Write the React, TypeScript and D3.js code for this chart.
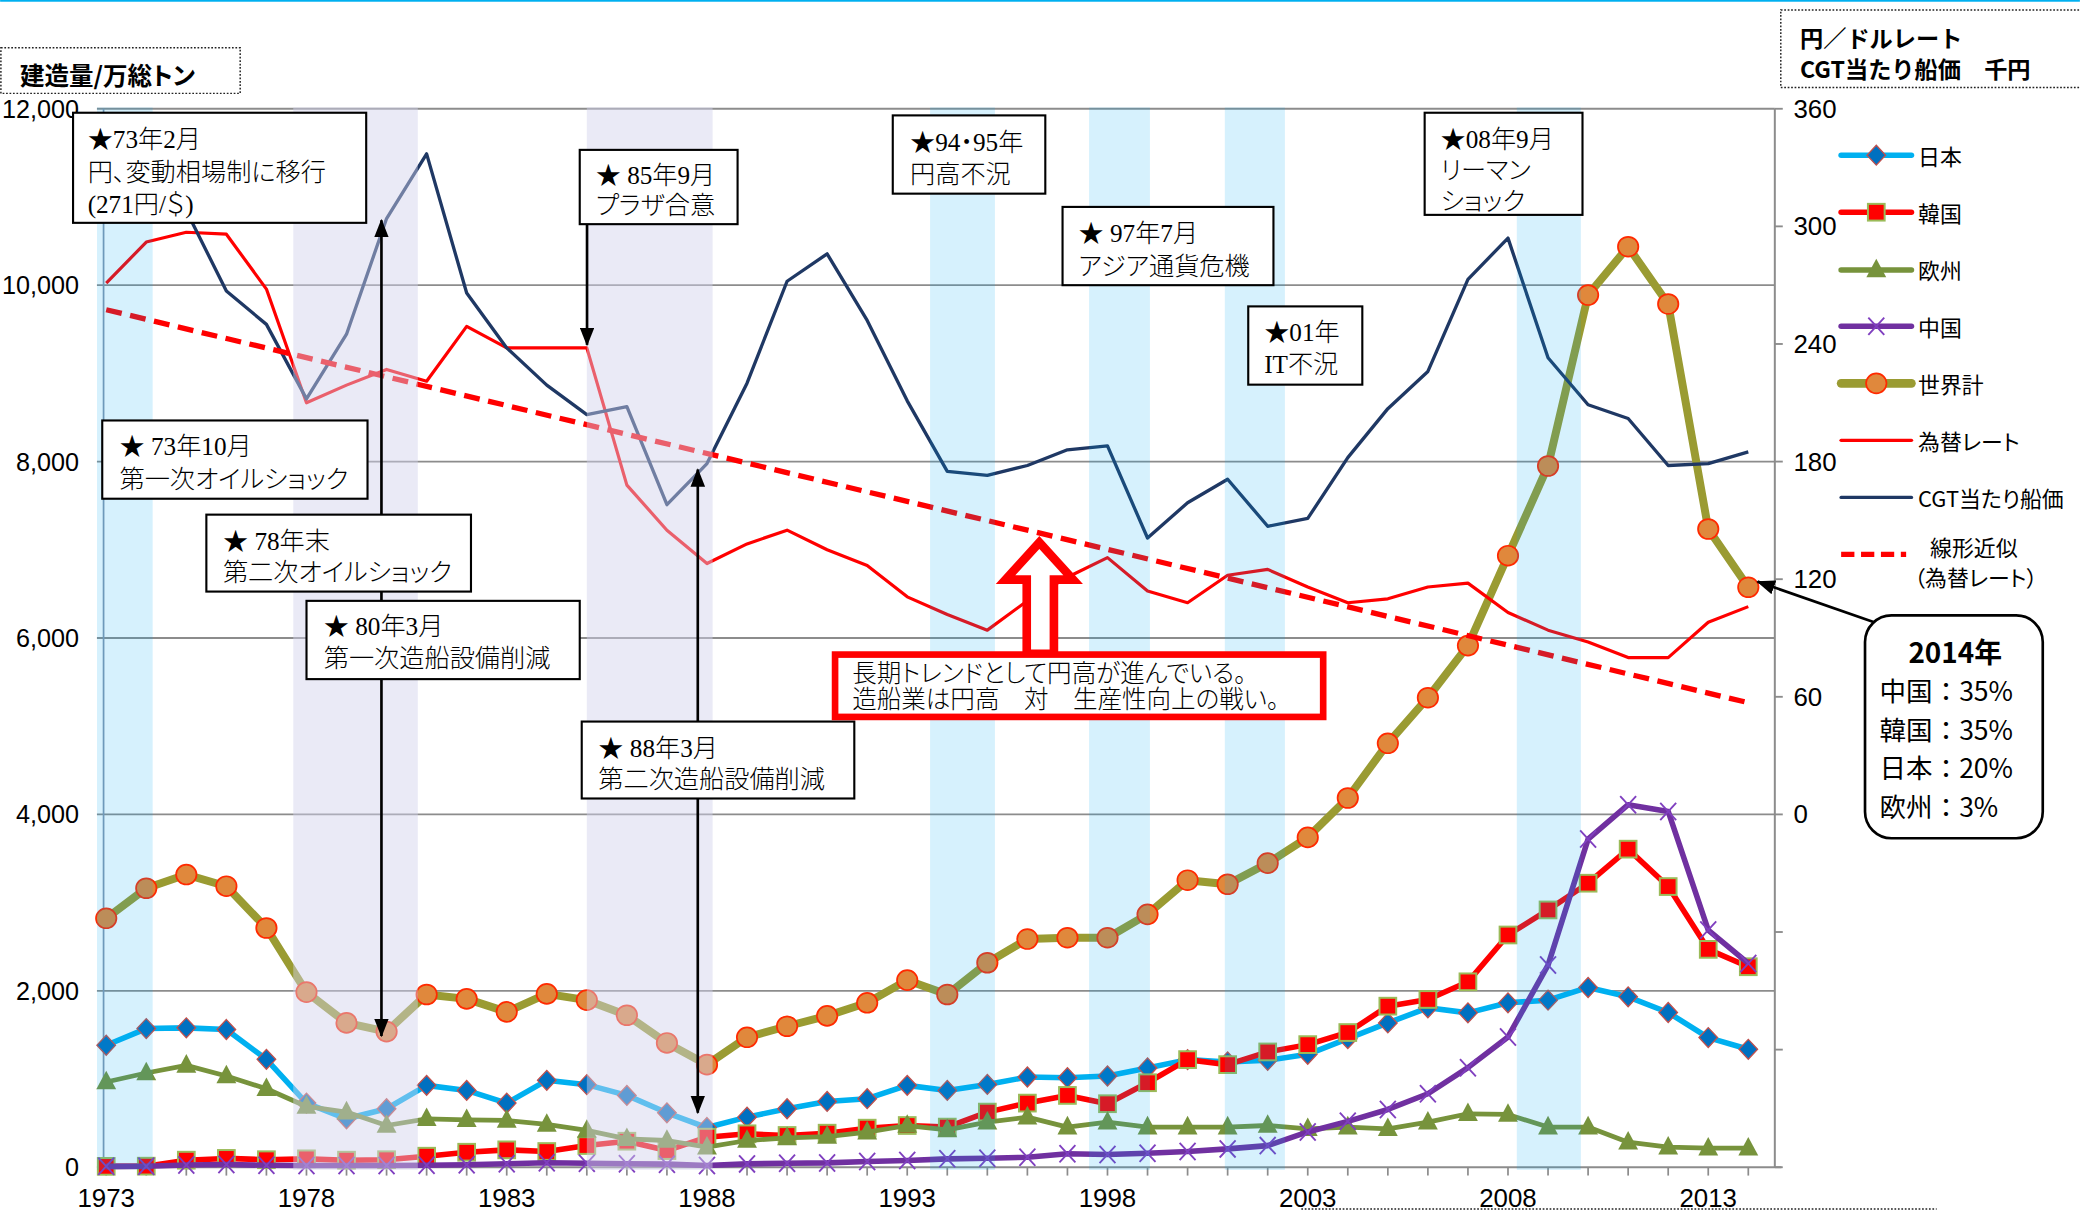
import React from 'react';
import * as d3 from 'd3';

// ---------- data ----------
const years = [1973, 1974, 1975, 1976, 1977, 1978, 1979, 1980, 1981, 1982, 1983, 1984, 1985, 1986, 1987, 1988, 1989, 1990, 1991, 1992, 1993, 1994, 1995, 1996, 1997, 1998, 1999, 2000, 2001, 2002, 2003, 2004, 2005, 2006, 2007, 2008, 2009, 2010, 2011, 2012, 2013, 2014];
const japan = [1383, 1572, 1580, 1561, 1223, 727, 549, 663, 928, 871, 727, 985, 936, 814, 617, 450, 568, 663, 746, 777, 928, 871, 939, 1023, 1015, 1034, 1125, 1220, 1193, 1212, 1280, 1458, 1636, 1807, 1750, 1864, 1894, 2038, 1932, 1754, 1470, 1337];
const korea = [10, 12, 80, 100, 85, 95, 80, 85, 125, 170, 197, 178, 246, 295, 189, 341, 379, 360, 386, 443, 473, 455, 625, 727, 814, 720, 958, 1220, 1163, 1307, 1390, 1527, 1826, 1902, 2102, 2633, 2917, 3220, 3606, 3182, 2470, 2273];
const europe = [966, 1068, 1155, 1034, 890, 689, 625, 473, 549, 538, 530, 485, 417, 322, 303, 227, 303, 333, 348, 398, 473, 424, 511, 568, 455, 511, 455, 455, 455, 473, 436, 455, 436, 511, 606, 598, 455, 455, 284, 227, 216, 216];
const china = [10, 12, 25, 30, 22, 20, 20, 20, 22, 28, 40, 50, 45, 40, 35, 19, 38, 45, 49, 64, 76, 95, 102, 114, 152, 144, 159, 178, 208, 245, 400, 520, 655, 833, 1129, 1477, 2292, 3720, 4110, 4034, 2689, 2311];
const world = [2822, 3163, 3318, 3186, 2712, 1985, 1636, 1538, 1958, 1909, 1761, 1966, 1894, 1723, 1409, 1163, 1473, 1598, 1716, 1864, 2121, 1958, 2318, 2587, 2602, 2602, 2867, 3254, 3208, 3447, 3739, 4186, 4806, 5323, 5914, 6933, 7950, 9888, 10436, 9787, 7236, 6575];
const rate = [271, 292, 297, 296, 268, 210, 219, 227, 221, 249, 238, 238, 238, 168, 145, 128, 138, 145, 135, 127, 111, 102, 94, 109, 121, 131, 114, 108, 122, 125, 116, 108, 110, 116, 118, 103, 94, 88, 80, 80, 98, 106];
const cgtPrice = [310, 330, 308, 267, 250, 212, 245, 304, 337, 266, 238, 219, 204, 208, 158, 179, 220, 272, 286, 252, 211, 175, 173, 178, 186, 188, 141, 159, 171, 147, 151, 182, 207, 226, 273, 294, 233, 209, 202, 178, 179, 185];

const seriesNames = ['日本', '韓国', '欧州', '中国', '世界計', '為替レート', 'CGT当たり船価'];
const trendName = ['線形近似', '（為替レート）'];
const leftTicks = [0, 2000, 4000, 6000, 8000, 10000, 12000];
const rightTicks = [-180, -120, -60, 0, 60, 120, 180, 240, 300, 360];
const rightLabels = [0, 60, 120, 180, 240, 300, 360];
const xLabels = [1973, 1978, 1983, 1988, 1993, 1998, 2003, 2008, 2013];

// highlighted periods
const bandStart = [1972.77, 1977.67, 1985.0, 1993.57, 1997.54, 2000.93, 2008.22];
const bandEnd = [1974.16, 1980.78, 1988.14, 1995.19, 1999.06, 2002.43, 2009.82];
const bandKind = ['blue', 'lav', 'lav', 'blue', 'blue', 'blue', 'blue'];

const noteTexts = [
  ['★73年2月', '円、変動相場制に移行', '(271円/＄)'],
  ['★ 85年9月', 'プラザ合意'],
  ['★94・95年', '円高不況'],
  ['★ 97年7月', 'アジア通貨危機'],
  ['★01年', 'IT不況'],
  ['★08年9月', 'リーマン', 'ショック'],
  ['★ 73年10月', '第一次オイルショック'],
  ['★ 78年末', '第二次オイルショック'],
  ['★ 80年3月', '第一次造船設備削減'],
  ['★ 88年3月', '第二次造船設備削減'],
];
const trendMessage = ['長期トレンドとして円高が進んでいる。', '造船業は円高　対　生産性向上の戦い。'];
const shareTitle = '2014年';
const shareLines = ['中国：35%', '韓国：35%', '日本：20%', '欧州：3%'];

// ---------- layout ----------
const VW = 1568, VH = 913;
const PL = 78, PR = 1338, PT = 82, PB = 880;
// box: [x0, y0, x1, y1, textX, firstLineY, lineStep]
const noteLayout = [
  [55, 85, 276, 168, 66, 105.5, 24.2],
  [437, 113, 556, 169, 449, 132, 22.6],
  [673, 87, 788, 146, 686, 107.6, 23.6],
  [801, 156, 960, 215, 813, 176, 25],
  [941, 231, 1027, 290, 953, 250.5, 24],
  [1074, 85, 1193, 162, 1086, 105, 23.5],
  [77, 317, 277, 376, 90, 336.7, 24.6],
  [155.5, 388, 355, 446, 168, 408.3, 23.4],
  [231, 453, 437, 512, 244, 472.4, 24],
  [438.5, 544, 644, 602, 451, 564, 24],
];

const SANS = "'Liberation Sans', Arial, 'Noto Sans CJK JP', sans-serif";
const JP = "'Noto Sans CJK JP', sans-serif";
const SERIF_JP = "'Liberation Serif', 'Noto Sans CJK JP', serif";
const palt = { fontFeatureSettings: '"palt" 1' } as React.CSSProperties;

const C = {
  japanLine: '#00b0f0', japanFill: '#0070c0', japanEdge: '#c0504d',
  korea: '#ff0000', koreaEdge: '#9bbb59',
  europe: '#77933c',
  china: '#7030a0',
  worldLine: '#9a9b32', worldFill: '#e0883c', worldEdge: '#ff2a00',
  rate: '#ff0000', cgt: '#1f3864', grid: '#8c8c8c',
};

function Diamond({ cx, cy }: { cx: number; cy: number }) {
  return <polygon points={`${cx},${cy - 7.5} ${cx + 7},${cy} ${cx},${cy + 7.5} ${cx - 7},${cy}`} fill={C.japanFill} stroke={C.japanEdge} strokeWidth={1} />;
}
function Square({ cx, cy }: { cx: number; cy: number }) {
  return <rect x={cx - 6.3} y={cy - 6.3} width={12.6} height={12.6} fill={C.korea} stroke={C.koreaEdge} strokeWidth={1.5} />;
}
function Tri({ cx, cy }: { cx: number; cy: number }) {
  return <polygon points={`${cx},${cy - 8.5} ${cx + 7.5},${cy + 5.5} ${cx - 7.5},${cy + 5.5}`} fill={C.europe} />;
}
function XMark({ cx, cy }: { cx: number; cy: number }) {
  return (
    <g stroke="#7f3fbf" strokeWidth={1.4}>
      <line x1={cx - 6} y1={cy - 6.5} x2={cx + 6} y2={cy + 6.5} />
      <line x1={cx - 6} y1={cy + 6.5} x2={cx + 6} y2={cy - 6.5} />
    </g>
  );
}
function Circ({ cx, cy }: { cx: number; cy: number }) {
  return <ellipse cx={cx} cy={cy} rx={7.7} ry={7.5} fill={C.worldFill} stroke={C.worldEdge} strokeWidth={1.3} />;
}

export default function App() {
  const x = d3.scaleLinear().domain([1973, 2014]).range([80, 1318]);
  const yL = d3.scaleLinear().domain([0, 12000]).range([PB, PT]);
  const yR = d3.scaleLinear().domain([-180, 360]).range([PB, PT]);

  const lineL = d3.line<number>().x((_, i) => x(years[i])).y((v) => yL(v));
  const lineR = d3.line<number>().x((_, i) => x(years[i])).y((v) => yR(v));

  // Excel-style linear trend of the exchange rate
  const n = years.length;
  const mx = d3.mean(years) as number;
  const my = d3.mean(rate) as number;
  let sxy = 0, sxx = 0;
  years.forEach((yr, i) => { sxy += (yr - mx) * (rate[i] - my); sxx += (yr - mx) * (yr - mx); });
  const slope = sxy / sxx;
  const icpt = my - slope * mx;
  const trendPts: [number, number][] = [years[0], years[n - 1]].map((yr) => [x(yr), yR(icpt + slope * yr)]);

  const fmt = d3.format(',');

  const primary = [
    { vals: japan, color: C.japanLine, w: 4.2, M: Diamond },
    { vals: korea, color: C.korea, w: 4.2, M: Square },
    { vals: europe, color: C.europe, w: 3.6, M: Tri },
    { vals: china, color: C.china, w: 4.2, M: XMark },
    { vals: world, color: C.worldLine, w: 6, M: Circ },
  ];

  const legendY = [117, 160, 203.5, 246, 289, 332, 375];
  const legendMarkers = [Diamond, Square, Tri, XMark, Circ];
  const legendColors = [C.japanLine, C.korea, C.europe, C.china, C.worldLine, C.rate, C.cgt];
  const legendW = [4.2, 4.2, 4.2, 4.2, 6.5, 2.6, 2.6];

  return (
    <svg width={2080} height={1211} viewBox={`0 0 ${VW} ${VH}`} style={{ position: 'absolute', left: 0, top: 0, background: '#fff' }}>
      <defs>
        <marker id="ah" viewBox="0 0 14 11" refX={13} refY={5.5} markerWidth={14} markerHeight={11} markerUnits="userSpaceOnUse" orient="auto-start-reverse">
          <path d="M0,0 L14,5.5 L0,11 z" fill="#000" />
        </marker>
      </defs>
      <rect x={0} y={0} width={VW} height={VH} fill="#fff" />
      <rect x={0} y={0} width={VW} height={1.3} fill="#00b0f0" />

      {/* grid */}
      {leftTicks.filter((v) => v > 0).map((v) => (
        <line key={'g' + v} x1={PL - 5} x2={PR} y1={yL(v)} y2={yL(v)} stroke={C.grid} strokeWidth={1.4} />
      ))}
      <line x1={PL - 5} x2={PR + 5} y1={PB} y2={PB} stroke={C.grid} strokeWidth={1.4} />
      <line x1={PL} x2={PL} y1={PT} y2={PB} stroke="#8497b0" strokeWidth={1.3} />
      <line x1={PR} x2={PR} y1={PT} y2={PB} stroke={C.grid} strokeWidth={1.5} />
      {rightTicks.map((v) => (
        <line key={'rt' + v} x1={PR} x2={PR + 6} y1={yR(v)} y2={yR(v)} stroke={C.grid} strokeWidth={1.4} />
      ))}
      {years.map((yr) => (
        <line key={'xt' + yr} x1={x(yr)} x2={x(yr)} y1={PB} y2={PB + 6.3} stroke={C.grid} strokeWidth={1.3} />
      ))}

      {/* primary series */}
      {primary.map((s, k) => (
        <g key={'s' + k}>
          <path d={lineL(s.vals) || ''} fill="none" stroke={s.color} strokeWidth={s.w} strokeLinejoin="round" />
          {s.vals.map((v, i) => <s.M key={i} cx={x(years[i])} cy={yL(v)} />)}
        </g>
      ))}

      {/* secondary series */}
      <path d={lineR(rate) || ''} fill="none" stroke={C.rate} strokeWidth={2.4} strokeLinejoin="round" />
      <path d={lineR(cgtPrice) || ''} fill="none" stroke={C.cgt} strokeWidth={2.5} strokeLinejoin="round" />
      <line x1={trendPts[0][0]} y1={trendPts[0][1]} x2={trendPts[1][0]} y2={trendPts[1][1]} stroke={C.rate} strokeWidth={4} strokeDasharray="12 6.5" />

      {/* period bands (translucent, on top) */}
      {bandStart.map((s, i) => (
        <rect key={'b' + i} x={x(s)} y={PT - 1} width={x(bandEnd[i]) - x(s)} height={PB - PT + 3}
          fill={bandKind[i] === 'blue' ? 'rgb(0,170,240)' : 'rgb(209,209,235)'}
          fillOpacity={bandKind[i] === 'blue' ? 0.16 : 0.46} />
      ))}

      {/* axis labels */}
      {leftTicks.map((v) => (
        <text key={'ll' + v} x={59.5} y={yL(v)} dominantBaseline="central" textAnchor="end" fontFamily={SANS} fontSize={19} fill="#000">{fmt(v)}</text>
      ))}
      {rightLabels.map((v) => (
        <text key={'rl' + v} x={1352} y={yR(v)} dominantBaseline="central" textAnchor="start" fontFamily={SANS} fontSize={19.5} fill="#000">{v}</text>
      ))}
      {xLabels.map((yr) => (
        <text key={'xl' + yr} x={x(yr)} y={903} dominantBaseline="central" textAnchor="middle" fontFamily={SANS} fontSize={19.5} fill="#000">{yr}</text>
      ))}

      {/* arrows */}
      <g stroke="#000" strokeWidth={2}>
        <line x1={287.5} y1={781} x2={287.5} y2={166} markerStart="url(#ah)" markerEnd="url(#ah)" />
        <line x1={442.5} y1={169} x2={442.5} y2={260} markerEnd="url(#ah)" />
        <line x1={526} y1={839} x2={526} y2={354} markerStart="url(#ah)" markerEnd="url(#ah)" />
        <line x1={1413.5} y1={469.4} x2={1325} y2={438.5} markerEnd="url(#ah)" />
      </g>

      {/* annotation boxes */}
      {noteTexts.map((lines, i) => {
        const [x0, y0, x1, y1, tx, ty, dy] = noteLayout[i];
        return (
          <g key={'n' + i}>
            <rect x={x0} y={y0} width={x1 - x0} height={y1 - y0} fill="#fff" stroke="#000" strokeWidth={1.6} />
            {lines.map((t, j) => (
              <text key={j} x={tx} y={ty + j * dy} dominantBaseline="central" fontFamily={SERIF_JP} fontWeight={300} fontSize={19} fill="#000" style={palt}>{t}</text>
            ))}
          </g>
        );
      })}

      {/* hollow up-arrow + red message box */}
      <polygon points="774,493 774,437 758,437 783.5,409 809,437 794.5,437 794.5,493" fill="#fff" stroke="#ff0000" strokeWidth={6.5} strokeLinejoin="miter" />
      <rect x={629.5} y={493.5} width={368} height={47} fill="#fff" stroke="#ff0000" strokeWidth={5} />
      {trendMessage.map((t, j) => (
        <text key={'tm' + j} x={642.5} y={507.6 + j * 20.1} dominantBaseline="central" fontFamily={SERIF_JP} fontWeight={300} fontSize={18.5} fill="#000" style={palt}>{t}</text>
      ))}

      {/* 2014 share callout */}
      <rect x={1406} y={464} width={134} height={168} rx={20} ry={20} fill="#fff" stroke="#000" strokeWidth={2} />
      <text x={1474} y={491} dominantBaseline="central" textAnchor="middle" fontFamily={JP} fontWeight={700} fontSize={21} fill="#000">{shareTitle}</text>
      {shareLines.map((t, j) => (
        <text key={'sh' + j} x={1417} y={520 + j * 29} dominantBaseline="central" fontFamily={JP} fontSize={20} fill="#000">{t}</text>
      ))}

      {/* legend */}
      {seriesNames.map((name, i) => (
        <g key={'lg' + i}>
          <line x1={1388} x2={1441} y1={legendY[i]} y2={legendY[i]} stroke={legendColors[i]} strokeWidth={legendW[i]} strokeLinecap="round" />
          {i < 5 ? React.createElement(legendMarkers[i], { cx: 1414.5, cy: legendY[i] }) : null}
          <text x={1446} y={legendY[i]} dominantBaseline="central" fontFamily={JP} fontSize={16.5} fill="#000" style={palt}>{name}</text>
        </g>
      ))}
      <line x1={1388} x2={1437} y1={418} y2={418} stroke={C.rate} strokeWidth={4} strokeDasharray="10 5" />
      <text x={1455} y={412} dominantBaseline="central" fontFamily={JP} fontSize={16.5} fill="#000">{trendName[0]}</text>
      <text x={1443} y={434.7} dominantBaseline="central" fontFamily={JP} fontSize={16.5} fill="#000" style={palt}>{trendName[1]}</text>

      {/* axis titles */}
      <rect x={0.6} y={36} width={180.4} height={34.4} fill="none" stroke="#222" strokeWidth={1.1} strokeDasharray="1.3 1.3" />
      <text x={15} y={56.5} dominantBaseline="central" fontFamily={JP} fontWeight={700} fontSize={18.5} fill="#000" style={palt}>建造量/万総トン</text>
      <rect x={1342.5} y={7.5} width={260} height={58.5} fill="none" stroke="#222" strokeWidth={1.1} strokeDasharray="1.3 1.3" />
      <text x={1357} y={27.6} dominantBaseline="central" fontFamily={JP} fontWeight={700} fontSize={17.5} fill="#000">円／ドルレート</text>
      <text x={1357} y={51.5} dominantBaseline="central" fontFamily={JP} fontWeight={700} fontSize={17.5} fill="#000">CGT当たり船価　千円</text>
      <line x1={981} x2={1460} y1={911.5} y2={911.5} stroke="#222" strokeWidth={1.1} strokeDasharray="1.3 1.3" />
    </svg>
  );
}
